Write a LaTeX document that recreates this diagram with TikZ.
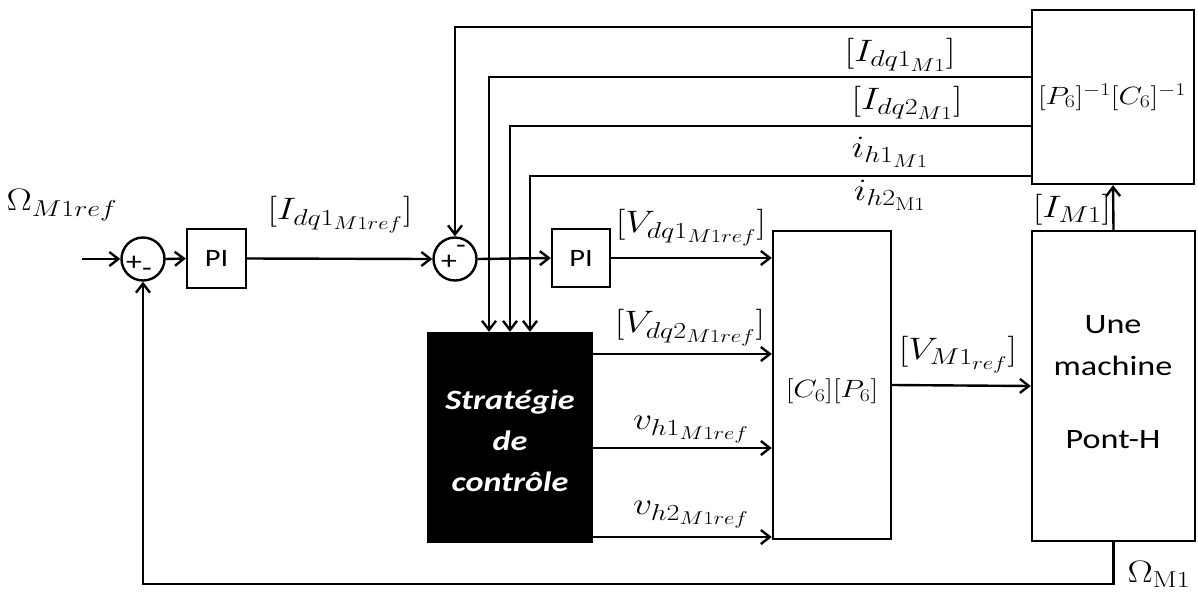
\RequirePackage{fix-cm}
\documentclass[tikz,border=0pt]{standalone}
\usepackage{graphicx}
\usepackage{fontspec}
\newfontfamily\calib{Carlito}
\usetikzlibrary{arrows.meta}
\DeclareMathSizes{31}{31}{23}{18.5}
\DeclareMathSizes{25}{25}{18}{14.4}
\newcommand\hs[1]{\scalebox{1.22}[1]{#1}}
\tikzset{
  arr/.style={line width=2.4pt,-{Straight Barb[length=9pt,width=14pt]}},
  blk/.style={draw,line width=2.4pt,rectangle,inner sep=0pt},
  sumc/.style={draw,circle,line width=2.4pt,minimum size=43pt,inner sep=0pt},
  mlab/.style={font=\fontsize{31}{36}\selectfont,inner sep=0pt},
  slab/.style={font=\fontsize{25}{29}\selectfont,inner sep=0pt},
  stxt/.style={font=\calib\fontsize{25}{30}\selectfont},
  sign/.style={font=\calib\fontsize{26}{26}\selectfont,inner sep=0pt},
}
\begin{document}
\begin{tikzpicture}[x=1pt,y=-1pt]
\useasboundingbox (0,0) rectangle (1198,592);
% helper coordinates
\coordinate (y27) at (0,27);
\coordinate (y77) at (0,77);
\coordinate (y126) at (0,126);
\coordinate (y176) at (0,176);
\coordinate (y354) at (0,354);
\coordinate (y448) at (0,448);
\coordinate (y537) at (0,537);
\coordinate (x489) at (489,0);
\coordinate (x510) at (510,0);
\coordinate (x530) at (530,0);
\coordinate (in) at (82,259);
% blocks
\node[sumc] (s1) at (143,259) {};
\node[sumc] (s2) at (455,259) {};
\node[blk,stxt,minimum width=59pt,minimum height=59pt] (pi1) at (216.5,258.5) {\hs{PI}};
\node[blk,stxt,minimum width=58pt,minimum height=58pt] (pi2) at (581,258) {\hs{PI}};
\node[blk,fill=black,minimum width=164pt,minimum height=209pt] (st) at (510,437.5) {};
\node[blk,minimum width=118pt,minimum height=308pt] (cp) at (832,385) {};
\node[blk,minimum width=163pt,minimum height=310pt] (ma) at (1113.5,386) {};
\node[blk,minimum width=162pt,minimum height=174pt] (pinv) at (1113,97) {};
% signs
\node[sign] (s1p) at (134,263) {\hs{+}};
\node[sign] (s1m) at (147,272) {\hs{-}};
\node[sign] (s2p) at (449,262) {\hs{+}};
\node[sign] (s2m) at (461,249) {\hs{-}};
% block texts
\node[text=white,align=center,font=\calib\bfseries\itshape\fontsize{28}{41}\selectfont] (sttxt) at (510,441) {\hs{Stratégie}\\\hs{de}\\\hs{contrôle}};
\node[align=center,font=\calib\fontsize{28}{42}\selectfont] (matxt) at (1113,346) {\hs{Une}\\\hs{machine}};
\node[font=\calib\fontsize{28}{42}\selectfont] (mapont) at (1113,440) {\hs{Pont-H}};
\node[slab] (cptxt) at (832,391) {\hs{$[C_6][P_6]$}};
\node[slab] (pinvtxt) at (1112,97) {\hs{$[P_6]^{-1}[C_6]^{-1}$}};
% labels
\node[mlab] (lom) at (62,205) {\hs{$\Omega_{M1ref}$}};
\node[mlab] (lidq) at (340,215) {\hs{$[I_{dq1_{M1ref}}]$}};
\node[mlab] (lidq1) at (900,55) {\hs{$[I_{dq1_{M1}}]$}};
\node[mlab] (lidq2) at (907,103) {\hs{$[I_{dq2_{M1}}]$}};
\node[mlab] (lih1) at (890,152) {\hs{$i_{h1_{M1}}$}};
\node[mlab] (lih2) at (890,195) {\hs{$i_{h2_{\mathrm{M1}}}$}};
\node[mlab] (lim) at (1072,210) {\hs{$[I_{M1}]$}};
\node[mlab] (lvdq1) at (691,228) {\hs{$[V_{dq1_{M1ref}}]$}};
\node[mlab] (lvdq2) at (690,328) {\hs{$[V_{dq2_{M1ref}}]$}};
\node[mlab] (lvh1) at (691,430) {\hs{$v_{h1_{M1ref}}$}};
\node[mlab] (lvh2) at (691,515) {\hs{$v_{h2_{M1ref}}$}};
\node[mlab] (lvm) at (958,355) {\hs{$[V_{M1_{ref}}]$}};
\node[mlab] (lomm) at (1159,574) {\hs{$\Omega_{\mathrm{M1}}$}};
% connectors
\draw[arr] (in) -- (s1.west);
\draw[arr] (s1.east) -- (pi1.west);
\draw[arr] (pi1.east) -- (s2.west);
\draw[arr] (s2.east) -- (pi2.west);
\draw[arr] (pi2.east) -- (pi2.east -| cp.west);
\draw[arr] (pinv.west |- y27) -| (s2.north);
\draw[arr] (pinv.west |- y77) -| (x489 |- st.north);
\draw[arr] (pinv.west |- y126) -| (x510 |- st.north);
\draw[arr] (pinv.west |- y176) -| (x530 |- st.north);
\draw[arr] (st.east |- y354) -- (cp.west |- y354);
\draw[arr] (st.east |- y448) -- (cp.west |- y448);
\draw[arr] (st.east |- y537) -- (cp.west |- y537);
\draw[arr] (cp.east) -- (ma.west);
\draw[arr] (ma.north) -- (pinv.south);
\draw[arr] (ma.south) -- ++(0,42) -| (s1.south);
\end{tikzpicture}
\end{document}
